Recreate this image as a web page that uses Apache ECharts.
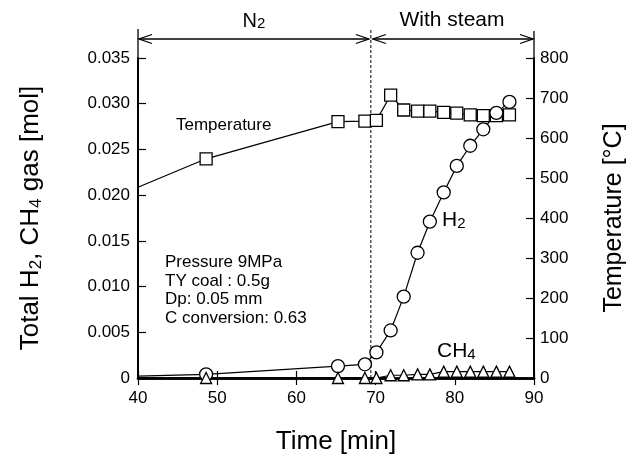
<!DOCTYPE html>
<html>
<head>
<meta charset="utf-8">
<script src="https://cdn.jsdelivr.net/npm/echarts@6/dist/echarts.min.js"></script>
<style>
html,body{margin:0;padding:0;background:#fff}
#chart{width:639px;height:464px}
</style>
</head>
<body>
<div id="chart"></div>
<script>
// time [min] of every sample (first one is the line entering from the axis, no marker)
var time = [40, 48.6, 65.25, 68.65, 70.1, 71.9, 73.55, 75.3, 76.85, 78.6, 80.25, 81.95, 83.6, 85.25, 86.9];
// temperature [°C]
var temp = [477, 548, 641, 642, 644, 707, 670, 667, 667, 664, 662, 658, 656, 656, 658];
// total H2 [mol]
var h2 = [0.0002, 0.0004, 0.0013, 0.0015, 0.0028, 0.0052, 0.0089, 0.0137, 0.0171, 0.0203, 0.0232, 0.0254, 0.0272, 0.0290, 0.0302];
// total CH4 [mol]
var ch4 = [0, 0, 0, 0, 0, 0.0003, 0.0003, 0.0004, 0.0004, 0.0007, 0.0007, 0.0007, 0.0007, 0.0007, 0.0007];
var switchTime = 69.4; // N2 -> steam

var FONT = '"Liberation Sans", Arial, sans-serif';

function pairs(vals){
	return time.map(function(t, i){
		if(i === 0) return {value:[t, vals[i]], symbol:'none'};
		return [t, vals[i]];
	});
}

var myChart = echarts.init(document.getElementById('chart'), null, {renderer:'canvas'});

function lineSeries(name, vals, symbol, size, yIdx){
	return {
		name: name,
		type: 'line',
		yAxisIndex: yIdx,
		data: pairs(vals),
		symbol: symbol,
		symbolSize: size,
		showAllSymbol: true,
		clip: false,
		z: 5,
		lineStyle: {color:'#000', width:1.2},
		itemStyle: {color:'#fff', borderColor:'#000', borderWidth:1.3},
		emphasis: {disabled:true}
	};
}

var option = {
	backgroundColor: '#fff',
	animation: false,
	textStyle: {fontFamily: FONT, color:'#000'},
	grid: {left:138, right:105, top:58, bottom:86},
	xAxis: [
		{
			type:'value', min:40, max:90, interval:10,
			name:'Time [min]', nameLocation:'middle', nameGap:51,
			nameTextStyle:{fontSize:26, color:'#000', fontFamily:FONT},
			axisLine:{lineStyle:{color:'#000', width:2.5}},
			axisTick:{inside:true, length:7, lineStyle:{color:'#000', width:1.2}},
			axisLabel:{fontSize:17, color:'#000', margin:12, fontFamily:FONT},
			splitLine:{show:false}
		},
		{
			type:'value', min:40, max:90, interval:10, position:'top',
			axisLine:{lineStyle:{color:'#000', width:2.5}},
			axisTick:{inside:true, length:7, lineStyle:{color:'#000', width:1.2}},
			axisLabel:{show:false},
			splitLine:{show:false}
		}
	],
	yAxis: [
		{
			type:'value', min:0, max:0.035, interval:0.005,
			name:'Total H{s|2}, CH{s|4} gas [mol]', nameLocation:'middle', nameGap:93,
			nameTextStyle:{
				fontSize:26, color:'#000', fontFamily:FONT,
				rich:{s:{fontSize:17, fontFamily:FONT, color:'#000', padding:[12,0,0,0], verticalAlign:'top'}}
			},
			axisLine:{lineStyle:{color:'#000', width:2}},
			axisTick:{inside:true, length:8, lineStyle:{color:'#000', width:1.2}},
			axisLabel:{fontSize:17, color:'#000', margin:8, fontFamily:FONT,
				formatter:function(v){ return v === 0 ? '0' : v.toFixed(3); }},
			splitLine:{show:false}
		},
		{
			type:'value', min:0, max:800, interval:100, position:'right',
			name:'Temperature [°C]', nameLocation:'middle', nameGap:68,
			nameTextStyle:{fontSize:25, color:'#000', fontFamily:FONT},
			axisLine:{lineStyle:{color:'#000', width:2}},
			axisTick:{inside:true, length:8, lineStyle:{color:'#000', width:1.2}},
			axisLabel:{fontSize:17, color:'#000', margin:6, fontFamily:FONT},
			splitLine:{show:false}
		}
	],
	series: [
		lineSeries('Temperature', temp, 'rect', 12, 1),
		lineSeries('H2', h2, 'circle', 13, 0),
		lineSeries('CH4', ch4, 'triangle', 11, 0)
	]
};
myChart.setOption(option);

// annotations: phase arrows, dashed switch line and labels
function addAnnotations(){
	var x0 = myChart.convertToPixel({xAxisIndex:0}, 40);
	var x1 = myChart.convertToPixel({xAxisIndex:0}, 90);
	var xs = myChart.convertToPixel({xAxisIndex:0}, switchTime);
	var yBottom = myChart.convertToPixel({yAxisIndex:0}, 0);
	var yTop = myChart.convertToPixel({yAxisIndex:0}, 0.035);
	var ya = yTop - 19;
	var ln = {stroke:'#000', lineWidth:1.3};
	function arrowHead(x, dir){
		return {type:'polyline', shape:{points:[[x + dir*13, ya - 4.5], [x, ya], [x + dir*13, ya + 4.5]]}, style:ln, silent:true};
	}
	var txt = {fill:'#000', fontFamily:FONT};
	var els = [
		{type:'line', shape:{x1:x0, y1:yTop - 29, x2:x0, y2:yTop}, style:ln, silent:true},
		{type:'line', shape:{x1:x1, y1:yTop - 27, x2:x1, y2:yTop}, style:ln, silent:true},
		{type:'line', shape:{x1:xs, y1:yTop - 28, x2:xs, y2:yBottom}, style:{stroke:'#000', lineWidth:1, lineDash:[3, 2]}, silent:true},
		{type:'line', shape:{x1:x0 + 1, y1:ya, x2:xs - 2, y2:ya}, style:ln, silent:true},
		{type:'line', shape:{x1:xs + 2, y1:ya, x2:x1 - 1, y2:ya}, style:ln, silent:true},
		arrowHead(x0 + 1, 1), arrowHead(xs - 2, -1), arrowHead(xs + 2, 1), arrowHead(x1 - 1, -1),
		{type:'text', x:254, y:31, silent:true,
			style:echarts.util.extend({text:'N{s|2}', fontSize:20, align:'center', verticalAlign:'bottom',
				rich:{s:{fontSize:15, fontFamily:FONT, verticalAlign:'bottom'}}}, txt)},
		{type:'text', x:452, y:31, silent:true,
			style:echarts.util.extend({text:'With steam', fontSize:21, align:'center', verticalAlign:'bottom'}, txt)},
		{type:'text', x:176, y:125, silent:true,
			style:echarts.util.extend({text:'Temperature', fontSize:17, verticalAlign:'middle'}, txt)},
		{type:'text', x:165, y:253, silent:true,
			style:echarts.util.extend({text:'Pressure 9MPa\nTY coal : 0.5g\nDp: 0.05 mm\nC conversion: 0.63', fontSize:17, lineHeight:18.7}, txt)},
		{type:'text', x:442, y:231, silent:true,
			style:echarts.util.extend({text:'H{s|2}', fontSize:21, verticalAlign:'bottom',
				rich:{s:{fontSize:15, fontFamily:FONT, verticalAlign:'bottom'}}}, txt)},
		{type:'text', x:437, y:362, silent:true,
			style:echarts.util.extend({text:'CH{s|4}', fontSize:21, verticalAlign:'bottom',
				rich:{s:{fontSize:15, fontFamily:FONT, verticalAlign:'bottom'}}}, txt)}
	];
	myChart.setOption({graphic:{elements:els}});
}
addAnnotations();
</script>
</body>
</html>
